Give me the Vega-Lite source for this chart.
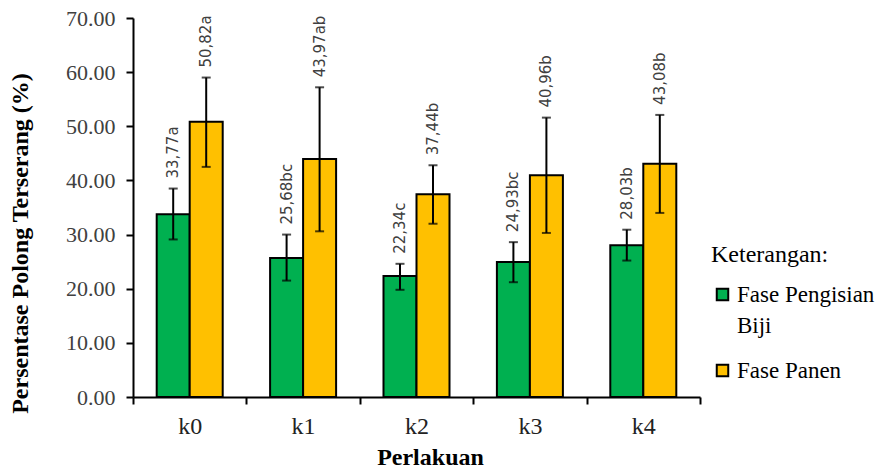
{
  "$schema": "https://vega.github.io/schema/vega-lite/v6.json",
  "width": 567,
  "height": 379,
  "autosize": "none",
  "padding": {"left": 133, "top": 18, "right": 192, "bottom": 71},
  "background": "white",
  "config": {
    "view": {"stroke": null},
    "font": "Liberation Serif",
    "legend": {"labelFont": "Liberation Serif", "titleFont": "Liberation Serif"}
  },
  "data": {"values": [
    {"perlakuan": "k0", "fase": "Fase Pengisian Biji", "mean": 33.77, "lo": 29.1, "hi": 38.5, "label": "33,77a"},
    {"perlakuan": "k0", "fase": "Fase Panen", "mean": 50.82, "lo": 42.5, "hi": 59.0, "label": "50,82a"},
    {"perlakuan": "k1", "fase": "Fase Pengisian Biji", "mean": 25.68, "lo": 21.5, "hi": 30.0, "label": "25,68bc"},
    {"perlakuan": "k1", "fase": "Fase Panen", "mean": 43.97, "lo": 30.6, "hi": 57.2, "label": "43,97ab"},
    {"perlakuan": "k2", "fase": "Fase Pengisian Biji", "mean": 22.34, "lo": 19.8, "hi": 24.6, "label": "22,34c"},
    {"perlakuan": "k2", "fase": "Fase Panen", "mean": 37.44, "lo": 32.0, "hi": 42.8, "label": "37,44b"},
    {"perlakuan": "k3", "fase": "Fase Pengisian Biji", "mean": 24.93, "lo": 21.2, "hi": 28.6, "label": "24,93bc"},
    {"perlakuan": "k3", "fase": "Fase Panen", "mean": 40.96, "lo": 30.3, "hi": 51.6, "label": "40,96b"},
    {"perlakuan": "k4", "fase": "Fase Pengisian Biji", "mean": 28.03, "lo": 25.2, "hi": 30.9, "label": "28,03b"},
    {"perlakuan": "k4", "fase": "Fase Panen", "mean": 43.08, "lo": 34.0, "hi": 52.1, "label": "43,08b"}
  ]},
  "encoding": {
    "x": {
      "field": "perlakuan", "type": "nominal",
      "scale": {"paddingInner": 0, "paddingOuter": 0},
      "axis": {
        "title": "Perlakuan", "titleFont": "Liberation Serif", "titleFontSize": 24, "titleFontWeight": "bold", "titleColor": "black",
        "titlePadding": 7, "titleX": 297,
        "labelAngle": 0, "labelFont": "Liberation Serif", "labelFontSize": 24, "labelColor": "#222", "labelPadding": 10,
        "tickBand": "extent", "tickSize": 7, "tickWidth": 2, "tickColor": "black",
        "domainColor": "black", "domainWidth": 2, "grid": false
      }
    },
    "xOffset": {
      "field": "fase", "type": "nominal",
      "sort": ["Fase Pengisian Biji", "Fase Panen"],
      "scale": {"paddingInner": 0, "paddingOuter": 0.718}
    }
  },
  "layer": [
    {
      "mark": {"type": "bar", "stroke": "black", "strokeWidth": 2},
      "encoding": {
        "y": {
          "field": "mean", "type": "quantitative",
          "scale": {"domain": [0, 70], "nice": false},
          "axis": {
            "title": "Persentase Polong Terserang (%)", "titleFont": "Liberation Serif", "titleFontSize": 24, "titleFontWeight": "bold", "titleColor": "black",
            "titlePadding": 33, "titleY": 225,
            "values": [0, 10, 20, 30, 40, 50, 60, 70], "format": ".2f",
            "labelFont": "Liberation Serif", "labelFontSize": 22, "labelColor": "#404040", "labelPadding": 11,
            "tickSize": 7, "tickWidth": 2, "tickColor": "black",
            "domainColor": "black", "domainWidth": 2, "grid": false
          }
        },
        "color": {
          "field": "fase", "type": "nominal",
          "sort": ["Fase Pengisian Biji", "Fase Panen"],
          "scale": {"domain": ["Fase Pengisian Biji", "Fase Panen"], "range": ["#00B050", "#FFC000"]},
          "legend": {
            "title": "Keterangan:", "orient": "none", "legendX": 578, "legendY": 225,
            "titleFont": "Liberation Serif", "titleFontSize": 24, "titleFontWeight": "normal", "titleColor": "black", "titlePadding": 16,
            "labelFont": "Liberation Serif", "labelFontSize": 23, "labelColor": "black", "labelLimit": 300,
            "labelExpr": "datum.label == 'Fase Pengisian Biji' ? ['Fase Pengisian', 'Biji'] : datum.label",
            "symbolType": "square", "symbolSize": 132, "symbolStrokeColor": "black", "symbolStrokeWidth": 2,
            "rowPadding": 21, "labelOffset": 3,
            "encode": {"labels": {"update": {"lineHeight": {"value": 31}}}}
          }
        }
      }
    },
    {
      "mark": {"type": "rule", "strokeWidth": 2, "color": "black"},
      "encoding": {
        "y": {"field": "lo", "type": "quantitative"},
        "y2": {"field": "hi"}
      }
    },
    {
      "mark": {"type": "tick", "color": "black", "thickness": 2, "size": 9, "orient": "horizontal"},
      "encoding": {"y": {"field": "lo", "type": "quantitative"}}
    },
    {
      "mark": {"type": "tick", "color": "black", "thickness": 2, "size": 9, "orient": "horizontal"},
      "encoding": {"y": {"field": "hi", "type": "quantitative"}}
    },
    {
      "mark": {"type": "text", "angle": 270, "align": "left", "baseline": "middle", "dx": 10, "font": "DejaVu Sans", "fontSize": 15, "color": "#404040"},
      "encoding": {
        "y": {"field": "hi", "type": "quantitative"},
        "text": {"field": "label"}
      }
    }
  ]
}
